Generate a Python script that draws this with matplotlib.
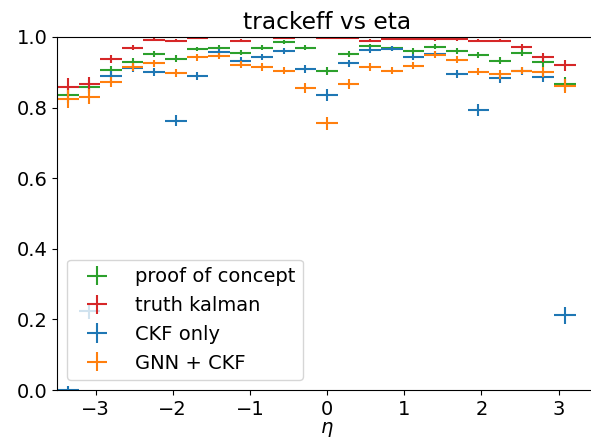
import numpy as np
import matplotlib
matplotlib.use("Agg")
import matplotlib.pyplot as plt

# eta bins
eta_edges = np.linspace(-3.5, 3.5, 26)
eta = (eta_edges[:-1] + eta_edges[1:]) / 2
eta_halfwidth = (eta_edges[1:] - eta_edges[:-1]) / 2

nan = float("nan")

# efficiency per bin (last bin empty)
eff_poc = [0.836, 0.859, 0.906, 0.930, 0.952, 0.939, 0.966, 0.970, 0.956, 0.969, 0.986, 0.969,
           0.904, 0.952, 0.975, 0.968, 0.960, 0.973, 0.961, 0.949, 0.933, 0.955, 0.928, 0.866, nan]
err_poc = [0.022, 0.018, 0.013, 0.011, 0.008, 0.009, 0.007, 0.007, 0.008, 0.007, 0.005, 0.007,
           0.011, 0.008, 0.006, 0.007, 0.008, 0.007, 0.008, 0.009, 0.010, 0.010, 0.014, 0.020, nan]

eff_truth = [0.857, 0.867, 0.937, 0.970, 0.992, 0.990, 0.997, 0.999, 0.990, 1.000, 0.996, 0.999,
             0.997, 0.996, 0.990, 0.994, 0.995, 0.994, 0.994, 0.990, 0.990, 0.972, 0.942, 0.920, nan]
err_truth = [0.027, 0.020, 0.012, 0.008, 0.004, 0.004, 0.003, 0.002, 0.004, 0.002, 0.003, 0.002,
             0.003, 0.003, 0.004, 0.003, 0.003, 0.004, 0.004, 0.004, 0.004, 0.008, 0.012, 0.015, nan]

eff_ckf = [0.000, 0.224, 0.890, 0.912, 0.901, 0.763, 0.890, 0.958, 0.932, 0.944, 0.960, 0.909,
           0.836, 0.925, 0.963, 0.967, 0.944, 0.953, 0.895, 0.793, 0.883, 0.904, 0.887, 0.212, nan]
err_ckf = [0.010, 0.022, 0.014, 0.011, 0.011, 0.016, 0.012, 0.008, 0.010, 0.009, 0.008, 0.011,
           0.016, 0.010, 0.008, 0.007, 0.009, 0.008, 0.012, 0.016, 0.012, 0.011, 0.014, 0.024, nan]

eff_gnn = [0.824, 0.831, 0.872, 0.915, 0.925, 0.899, 0.942, 0.947, 0.922, 0.916, 0.905, 0.855,
           0.755, 0.867, 0.916, 0.905, 0.919, 0.950, 0.935, 0.902, 0.894, 0.905, 0.902, 0.861, nan]
err_gnn = [0.026, 0.021, 0.015, 0.011, 0.010, 0.011, 0.009, 0.009, 0.010, 0.011, 0.011, 0.014,
           0.018, 0.013, 0.011, 0.011, 0.010, 0.009, 0.010, 0.011, 0.012, 0.011, 0.014, 0.020, nan]

plt.rcParams["font.size"] = 14

fig = plt.figure(figsize=(5.91, 4.41), dpi=100)
ax = fig.add_axes([0.0964, 0.1156, 0.914, 0.8005])

ax.errorbar(eta, eff_poc, yerr=err_poc, xerr=eta_halfwidth, fmt="none", color="tab:green", label="proof of concept")
ax.errorbar(eta, eff_truth, yerr=err_truth, xerr=eta_halfwidth, fmt="none", color="tab:red", label="truth kalman")
ax.errorbar(eta, eff_ckf, yerr=err_ckf, xerr=eta_halfwidth, fmt="none", color="tab:blue", label="CKF only")
ax.errorbar(eta, eff_gnn, yerr=err_gnn, xerr=eta_halfwidth, fmt="none", color="tab:orange", label="GNN + CKF")

ax.set_xlim(-3.5, 3.5)
ax.set_ylim(0, 1)
ax.set_title("trackeff vs eta")
ax.set_xlabel(r"$\eta$", labelpad=1)
ax.legend(loc="lower left", handlelength=2.3)

fig.savefig("out.png", dpi=100)
